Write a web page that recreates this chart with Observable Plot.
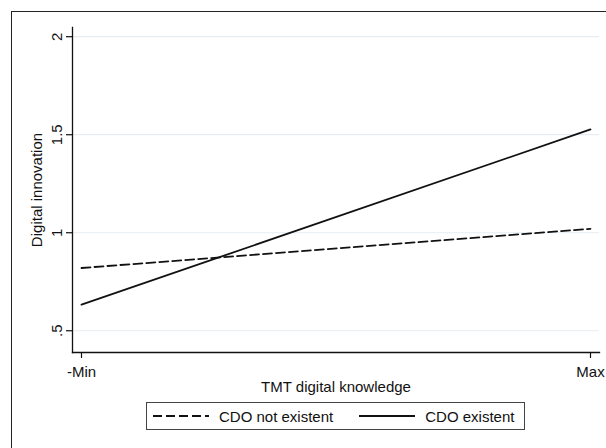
<!DOCTYPE html>
<html>
<head>
<meta charset="utf-8">
<script src="https://cdn.jsdelivr.net/npm/d3@7"></script>
<script src="https://cdn.jsdelivr.net/npm/@observablehq/plot@0.6"></script>
<style>
  html, body { margin: 0; padding: 0; background: #fff; overflow: hidden; }
  #wrap { position: relative; width: 606px; height: 448px; overflow: hidden; background: #fff;
          font-family: "Liberation Sans", Arial, sans-serif; color: #111; }
  #outer { position: absolute; left: 11px; top: 11px; width: 800px; height: 800px;
           border: 1.5px solid #222; box-sizing: border-box; }
  #chart { position: absolute; left: 0; top: 0; }
  #legend { position: absolute; left: 146px; top: 402px; width: 379px; height: 28px;
            border: 1px solid #444; box-sizing: border-box; display: flex; align-items: center;
            font-size: 15px; background: #fff; }
  #legend .item { display: flex; align-items: center; }
  #legend svg { display: block; }
</style>
</head>
<body>
<div id="wrap">
  <div id="outer"></div>
  <div id="chart"></div>
  <div id="legend"></div>
</div>
<script>
// ---- data ----
const xLabels = ["-Min", "Max"];
const seriesNames = ["CDO not existent", "CDO existent"];
const cdoNotExistent = [0.82, 1.02];
const cdoExistent = [0.633, 1.527];
const yTicks = [0.5, 1, 1.5, 2];
const yTickLabels = [".5", "1", "1.5", "2"];
const xTitle = "TMT digital knowledge";
const yTitle = "Digital innovation";

const rows = [];
xLabels.forEach((lab, i) => {
  rows.push({x: i, y: cdoNotExistent[i], series: seriesNames[0]});
  rows.push({x: i, y: cdoExistent[i], series: seriesNames[1]});
});

const ink = "#111";
const chart = Plot.plot({
  width: 606,
  height: 400,
  marginTop: 27,
  marginLeft: 72,
  marginRight: 7,
  marginBottom: 48,
  style: {fontSize: "15px", fontFamily: "'Liberation Sans', Arial, sans-serif", color: ink, background: "transparent"},
  x: {domain: [0, 1], inset: 9},
  y: {domain: [0.389, 2.047]},
  marks: [
    Plot.gridY(yTicks, {stroke: "#e6edf2", strokeOpacity: 1, strokeWidth: 1.2}),
    Plot.frame({anchor: "left", stroke: ink, strokeWidth: 1.3}),
    Plot.frame({anchor: "bottom", stroke: ink, strokeWidth: 1.3}),
    Plot.axisY({ticks: yTicks, tickSize: 6, tickFormat: () => "", label: null, stroke: ink, strokeWidth: 1.2}),
    Plot.text(yTicks, {y: d => d, text: (d, i) => yTickLabels[i], frameAnchor: "left", rotate: -90,
      textAnchor: "middle", lineAnchor: "middle", dx: -15, fill: ink}),
    Plot.axisX({ticks: [0, 1], tickFormat: i => xLabels[i], tickSize: 6, tickPadding: 8, label: null,
      stroke: ink, strokeWidth: 1.2, fill: ink}),
    Plot.text([xTitle], {frameAnchor: "bottom", lineAnchor: "top", dy: 29, fill: ink}),
    Plot.text([yTitle], {frameAnchor: "left", rotate: -90, textAnchor: "middle", lineAnchor: "middle", dx: -35, fill: ink}),
    Plot.line(rows.filter(d => d.series === seriesNames[0]), {x: "x", y: "y", stroke: ink, strokeWidth: 1.8, strokeDasharray: "9,4"}),
    Plot.line(rows.filter(d => d.series === seriesNames[1]), {x: "x", y: "y", stroke: ink, strokeWidth: 1.8})
  ]
});
document.getElementById("chart").appendChild(chart);

// legend
const legend = document.getElementById("legend");
const styles = [{dash: "9,4", ml: 6}, {dash: null, ml: 26}];
seriesNames.forEach((name, i) => {
  const item = document.createElement("div");
  item.className = "item";
  item.style.marginLeft = styles[i].ml + "px";
  const svg = d3.create("svg").attr("width", 56).attr("height", 10);
  svg.append("line").attr("x1", 0).attr("x2", 56).attr("y1", 5).attr("y2", 5)
    .attr("stroke", ink).attr("stroke-width", 1.8)
    .attr("stroke-dasharray", styles[i].dash);
  item.appendChild(svg.node());
  const span = document.createElement("span");
  span.textContent = name;
  span.style.marginLeft = "10px";
  item.appendChild(span);
  legend.appendChild(item);
});
</script>
</body>
</html>
